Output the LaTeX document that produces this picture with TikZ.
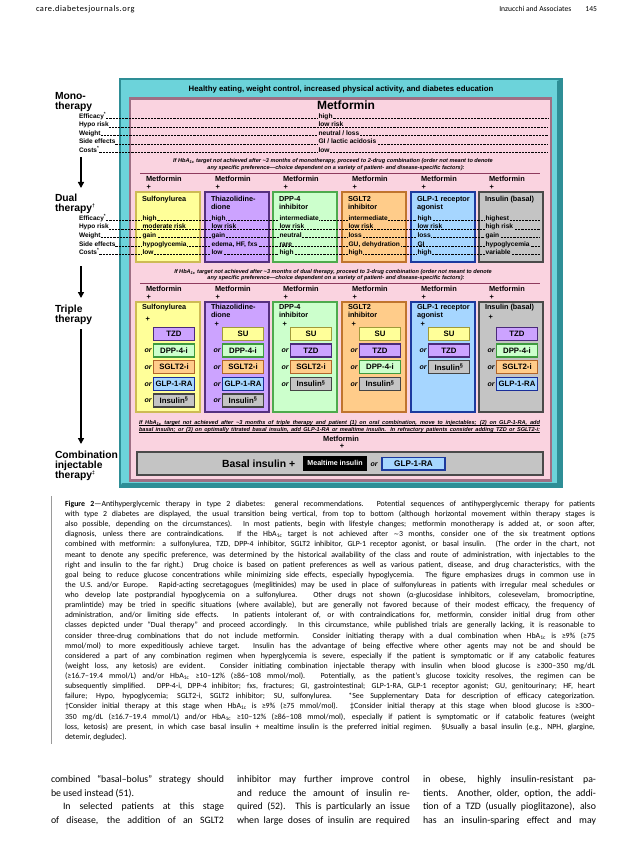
\documentclass[tikz,border=0pt]{standalone}
\usepackage{fontspec}
\setmainfont{Carlito}
\newfontfamily\arial{Liberation Sans}
\newfontfamily\dejavu{DejaVu Sans}
\newfontfamily\hdrwide[LetterSpace=6]{Carlito}
\usetikzlibrary{arrows.meta}
\definecolor{tealF}{HTML}{6CD3DA}
\definecolor{tealB}{HTML}{2E8E96}
\definecolor{pinkF}{HTML}{FAD3E0}
\definecolor{pinkB}{HTML}{9E6F84}
\definecolor{sepC}{HTML}{8E3A5E}
\definecolor{yelF}{HTML}{FFFF99}
\definecolor{yelB}{HTML}{CDBB55}
\definecolor{yelS}{HTML}{A09A3A}
\definecolor{purF}{HTML}{CCA3FF}
\definecolor{purB}{HTML}{55307F}
\definecolor{purS}{HTML}{4B2A7A}
\definecolor{grnF}{HTML}{CCFFCC}
\definecolor{grnB}{HTML}{4DAA4D}
\definecolor{grnS}{HTML}{3E9A3E}
\definecolor{orgF}{HTML}{FFCC8A}
\definecolor{orgB}{HTML}{C0742E}
\definecolor{orgS}{HTML}{B0642A}
\definecolor{bluF}{HTML}{A6D6FF}
\definecolor{bluB}{HTML}{1C3A9E}
\definecolor{bluS}{HTML}{1A2E99}
\definecolor{gryF}{HTML}{C4C4C4}
\definecolor{gryB}{HTML}{4A4A4A}
\definecolor{gryS}{HTML}{444444}
\definecolor{capbar}{HTML}{9A9A9A}
\newcommand\capline[2]{\node[captxt] (cap#1) at (65,{506.5+10.12*(#1-1)}) {\makebox[530pt][s]{#2}};}
\newcommand\caplast[2]{\node[captxt] (cap#1) at (65,{506.5+10.12*(#1-1)}) {#2};}
\newcommand\HbA{HbA\textsubscript{1c}}
\begin{document}
\begin{tikzpicture}[x=1pt,y=-1pt,
  every node/.style={inner sep=0pt, outer sep=0pt},
  hdr/.style={font=\fontsize{7.6}{9}\selectfont, anchor=base west},
  stage/.style={font=\arial\bfseries\fontsize{10.3}{11}\selectfont, anchor=base west},
  rowlab/.style={font=\arial\bfseries\fontsize{6.5}{7}\selectfont, anchor=base west},
  val/.style={font=\arial\bfseries\fontsize{6.6}{7}\selectfont, anchor=base west, fill=#1, inner xsep=0.6pt, inner ysep=0.4pt},
  dashline/.style={dash pattern=on 2.2pt off 1pt, line width=0.45pt},
  metlab/.style={font=\arial\bfseries\fontsize{7.4}{8}\selectfont, anchor=base west},
  ttl/.style={font=\arial\bfseries\fontsize{7.3}{8}\selectfont, anchor=base west},
  note/.style={font=\arial\bfseries\itshape\fontsize{5.6}{7}\selectfont, anchor=base},
  colbox/.style={draw=#1B, fill=#1F, line width=2.3pt, minimum width=64pt, anchor=north west},
  subbox/.style={draw=#1S, fill=#1F, line width=1.3pt, minimum width=41pt, minimum height=13pt, font=\arial\bfseries\fontsize{7.8}{8}\selectfont},
  ornode/.style={font=\arial\bfseries\itshape\fontsize{7}{8}\selectfont, anchor=base},
  captxt/.style={anchor=base west, font=\fontsize{7.85}{10}\selectfont},
  bodytxt/.style={anchor=base west, font=\fontsize{9.8}{12}\selectfont},
  stagearrow/.style={line width=1.5pt, -{Triangle[length=6pt,width=6pt]}}
]
\useasboundingbox[fill=white] (0,0) rectangle (638,842);

% ---------- page header ----------
\node[hdr, font=\hdrwide\fontsize{8.4}{9}\selectfont] (hleft) at (36,11.5) {care.diabetesjournals.org};
\node[hdr, anchor=base east] (hright) at (597,11.5) {Inzucchi and Associates\hspace{14pt}145};

% ---------- frames ----------
\draw[tealB, fill=tealF, line width=1.2pt] (120,79) rectangle (562,487);
\fill[tealB] (557,81) -- (562,79) -- (562,487) -- (120,487) -- (122,483) -- (557,483) -- cycle;
\draw[pinkB, fill=pinkF, line width=2.5pt] (130,98.5) rectangle (551,480.5);

\node[font=\arial\bfseries\fontsize{7.8}{9}\selectfont] (life) at (341,90) {Healthy eating, weight control, increased physical activity, and diabetes education};

% ---------- stage labels ----------
\node[stage] (mono1) at (55,99.7) {Mono-};
\node[stage] (mono2) at (55,109.5) {therapy};
\node[stage] (dual1) at (55,201.7) {Dual};
\node[stage] (dual2) at (55,211.2) {therapy\textsuperscript{\fontsize{5}{5}\selectfont†}};
\node[stage] (trip1) at (55,312.4) {Triple};
\node[stage] (trip2) at (55,322.4) {therapy};
\node[stage] (comb1) at (55,458) {Combination};
\node[stage] (comb2) at (55,468) {injectable};
\node[stage] (comb3) at (55,478) {therapy\textsuperscript{\fontsize{5}{5}\selectfont‡}};

\coordinate (a1s) at (81,157); \coordinate (a1e) at (81,188);
\coordinate (a2s) at (81,266); \coordinate (a2e) at (81,298);
\coordinate (a3s) at (81,329); \coordinate (a3e) at (81,444);
\draw[stagearrow] (a1s) -- (a1e);
\draw[stagearrow] (a2s) -- (a2e);
\draw[stagearrow] (a3s) -- (a3e);

% ---------- monotherapy ----------
\node[font=\arial\bfseries\fontsize{12}{13}\selectfont] (metmono) at (346,105.5) {Metformin};
\foreach \t/\v [count=\i] in {Efficacy\textsuperscript{*}/high, Hypo risk/low risk, Weight/{neutral / loss}, Side effects/{GI / lactic acidosis}, Costs\textsuperscript{*}/low}{
  \node[rowlab] (mlab\i) at (79,{118.5+8.5*(\i-1)}) {\t};
  \draw[dashline] (mlab\i.base east) -- (548,{118.5+8.5*(\i-1)});
  \node[val=pinkF] (mval\i) at (318,{118.5+8.5*(\i-1)}) {\v};
}

\node[note] (n1a) at (333,163) {If \HbA\ target not achieved after \textasciitilde3 months of monotherapy, proceed to 2-drug combination (order not meant to denote};
\node[note] (n1b) at (336,170) {any specific preference—choice dependent on a variety of patient- and disease-specific factors):};
\coordinate (s1a) at (140,174); \coordinate (s1b) at (540,174);
\draw[sepC, line width=1pt] (s1a) -- (s1b);

% ---------- dual therapy ----------
\foreach \L/\C [count=\i] in {136/yel, 205/pur, 273/grn, 342/org, 411/blu, 479/gry}{
  \node[metlab] (dm\i) at (\L+10,181.7) {Metformin};
  \node[metlab] (dp\i) at (\L+10.5,189.6) {+};
  \node[colbox=\C, minimum height=70pt] (d\i) at (\L,192) {};
}
\node[ttl] (dt1) at (142,201.7) {Sulfonylurea};
\node[ttl] (dt2) at (211,201.7) {Thiazolidine-};
\node[ttl] (dt2b) at (211,209.4) {dione};
\node[ttl] (dt3) at (279,201.7) {DPP-4};
\node[ttl] (dt3b) at (279,209.4) {inhibitor};
\node[ttl] (dt4) at (348,201.7) {SGLT2};
\node[ttl] (dt4b) at (348,209.4) {inhibitor};
\node[ttl] (dt5) at (417,201.7) {GLP-1 receptor};
\node[ttl] (dt5b) at (417,209.4) {agonist};
\node[ttl] (dt6) at (485,201.7) {Insulin (basal)};

\foreach \t [count=\i] in {Efficacy\textsuperscript{*}, Hypo risk, Weight, Side effects, Costs\textsuperscript{*}}{
  \node[rowlab] (dlab\i) at (79,{220.5+8.5*(\i-1)}) {\t};
  \draw[dashline] (dlab\i.base east) -- (540,{220.5+8.5*(\i-1)});
}
\foreach \L/\F/\va/\vb/\vc/\vd/\ve [count=\i] in {
  136/yelF/high/moderate risk/gain/hypoglycemia/low,
  205/purF/high/low risk/gain/{edema, HF, fxs}/low,
  273/grnF/intermediate/low risk/neutral/rare/high,
  342/orgF/intermediate/low risk/loss/{GU, dehydration}/high,
  411/bluF/high/low risk/loss/GI/high,
  479/gryF/highest/high risk/gain/hypoglycemia/variable}{
  \node[val=\F] (v\i-1) at (\L+6,220.5) {\va};
  \node[val=\F] (v\i-2) at (\L+6,229) {\vb};
  \node[val=\F] (v\i-3) at (\L+6,237.5) {\vc};
  \node[val=\F] (v\i-4) at (\L+6,246) {\vd};
  \node[val=\F] (v\i-5) at (\L+6,254.5) {\ve};
}

\node[note] (n2a) at (333,273) {If \HbA\ target not achieved after \textasciitilde3 months of dual therapy, proceed to 3-drug combination (order not meant to denote};
\node[note] (n2b) at (336,279.7) {any specific preference—choice dependent on a variety of patient- and disease-specific factors):};
\coordinate (s2a) at (140,283.5); \coordinate (s2b) at (540,283.5);
\draw[sepC, line width=1pt] (s2a) -- (s2b);

% ---------- triple therapy ----------
\foreach \L/\C [count=\i] in {136/yel, 205/pur, 273/grn, 342/org, 411/blu, 479/gry}{
  \node[metlab] (tm\i) at (\L+10,291.7) {Metformin};
  \node[metlab] (tp\i) at (\L+10.5,299.4) {+};
  \node[colbox=\C, minimum height=110pt] (t\i) at (\L,302) {};
}
\node[ttl] (tt1) at (142,309.7) {Sulfonylurea};
\node[ttl] (tt2) at (211,309.7) {Thiazolidine-};
\node[ttl] (tt2b) at (211,317.4) {dione};
\node[ttl] (tt3) at (279,309.7) {DPP-4};
\node[ttl] (tt3b) at (279,317.4) {inhibitor};
\node[ttl] (tt4) at (348,309.7) {SGLT2};
\node[ttl] (tt4b) at (348,317.4) {inhibitor};
\node[ttl] (tt5) at (417,309.7) {GLP-1 receptor};
\node[ttl] (tt5b) at (417,317.4) {agonist};
\node[ttl] (tt6) at (485,309.7) {Insulin (basal)};
\node[metlab] (tq1) at (145.5,321.8) {+};
\node[metlab] (tq2) at (214.5,326.8) {+};
\node[metlab] (tq3) at (282.5,326.8) {+};
\node[metlab] (tq4) at (351.5,326.8) {+};
\node[metlab] (tq5) at (420.5,326.8) {+};
\node[metlab] (tq6) at (488.5,319.8) {+};

\foreach \k/\L/\items in {
  1/136/{TZD/pur, DPP-4-i/grn, SGLT2-i/org, GLP-1-RA/blu, Insulin\textsuperscript{§}/gry},
  2/205/{SU/yel, DPP-4-i/grn, SGLT2-i/org, GLP-1-RA/blu, Insulin\textsuperscript{§}/gry},
  3/273/{SU/yel, TZD/pur, SGLT2-i/org, Insulin\textsuperscript{§}/gry},
  4/342/{SU/yel, TZD/pur, DPP-4-i/grn, Insulin\textsuperscript{§}/gry},
  5/411/{SU/yel, TZD/pur, Insulin\textsuperscript{§}/gry},
  6/479/{TZD/pur, DPP-4-i/grn, SGLT2-i/org, GLP-1-RA/blu}}{
  \foreach \t/\c [count=\j] in \items {
    \node[subbox=\c] (sb\k-\j) at (\L+38,{333.7+16.67*(\j-1)}) {\t};
    \ifnum\j>1 \node[ornode] (or\k-\j) at (\L+12,{336.2+16.67*(\j-1)}) {or};\fi
  }
}

% ---------- triple -> injectable note ----------
\node[note, anchor=base west] (n3a) at (139,424) {\makebox[401pt][s]{If \HbA\ target not achieved after \textasciitilde3 months of triple therapy and patient (1) on oral combination, move to injectables; (2) on GLP-1-RA, add}};
\node[note, anchor=base west] (n3b) at (139,431) {\makebox[401pt][s]{basal insulin; or (3) on optimally titrated basal insulin, add GLP-1-RA or mealtime insulin. In refractory patients consider adding TZD or SGLT2-i:}};
\draw[line width=0.45pt] (n3a.base west) ++(0,1) -- ++(401,0);
\draw[line width=0.45pt] (n3b.base west) ++(0,1) -- ++(401,0);

% ---------- combination injectable ----------
\node[metlab, anchor=base] (cm) at (341,441.7) {Metformin};
\node[metlab, anchor=base] (cp) at (342,448.7) {+};
\node[draw=gryB, fill=gryF, line width=2.4pt, minimum width=406pt, minimum height=23pt, anchor=north west] (basalbox) at (137,452) {};
\node[font=\arial\bfseries\fontsize{10.4}{11}\selectfont, anchor=base west] (basal) at (222,467.2) {Basal insulin +};
\node[fill=black, text=white, minimum width=64pt, minimum height=15.5pt, font=\arial\bfseries\fontsize{7.1}{8}\selectfont] (meal) at (335,463.3) {Mealtime insulin};
\node[ornode] (cor) at (374,466) {or};
\node[draw=bluB, fill=bluF, line width=1.8pt, minimum width=63pt, minimum height=12.5pt, font=\arial\bfseries\fontsize{8.2}{9}\selectfont] (glp) at (413.5,463.8) {GLP-1-RA};

% ---------- caption ----------
\coordinate (bar1) at (51.5,496); \coordinate (bar2) at (51.5,744);
\draw[capbar, line width=0.7pt] (bar1) -- (bar2);
\capline{1}{\textbf{Figure 2}—Antihyperglycemic therapy in type 2 diabetes: general recommendations. Potential sequences of antihyperglycemic therapy for patients}
\capline{2}{with type 2 diabetes are displayed, the usual transition being vertical, from top to bottom (although horizontal movement within therapy stages is}
\capline{3}{also possible, depending on the circumstances). In most patients, begin with lifestyle changes; metformin monotherapy is added at, or soon after,}
\capline{4}{diagnosis, unless there are contraindications. If the \HbA\ target is not achieved after {\dejavu\fontsize{6.6}{8}\selectfont ∼}3 months, consider one of the six treatment options}
\capline{5}{combined with metformin: a sulfonylurea, TZD, DPP-4 inhibitor, SGLT2 inhibitor, GLP-1 receptor agonist, or basal insulin. (The order in the chart, not}
\capline{6}{meant to denote any specific preference, was determined by the historical availability of the class and route of administration, with injectables to the}
\capline{7}{right and insulin to the far right.) Drug choice is based on patient preferences as well as various patient, disease, and drug characteristics, with the}
\capline{8}{goal being to reduce glucose concentrations while minimizing side effects, especially hypoglycemia. The figure emphasizes drugs in common use in}
\capline{9}{the U.S. and/or Europe. Rapid-acting secretagogues (meglitinides) may be used in place of sulfonylureas in patients with irregular meal schedules or}
\capline{10}{who develop late postprandial hypoglycemia on a sulfonylurea. Other drugs not shown (α-glucosidase inhibitors, colesevelam, bromocriptine,}
\capline{11}{pramlintide) may be tried in specific situations (where available), but are generally not favored because of their modest efficacy, the frequency of}
\capline{12}{administration, and/or limiting side effects. In patients intolerant of, or with contraindications for, metformin, consider initial drug from other}
\capline{13}{classes depicted under “Dual therapy” and proceed accordingly. In this circumstance, while published trials are generally lacking, it is reasonable to}
\capline{14}{consider three-drug combinations that do not include metformin. Consider initiating therapy with a dual combination when \HbA\ is ≥9\% (≥75}
\capline{15}{mmol/mol) to more expeditiously achieve target. Insulin has the advantage of being effective where other agents may not be and should be}
\capline{16}{considered a part of any combination regimen when hyperglycemia is severe, especially if the patient is symptomatic or if any catabolic features}
\capline{17}{(weight loss, any ketosis) are evident. Consider initiating combination injectable therapy with insulin when blood glucose is ≥300–350 mg/dL}
\capline{18}{(≥16.7–19.4 mmol/L) and/or \HbA\ ≥10–12\% (≥86–108 mmol/mol). Potentially, as the patient’s glucose toxicity resolves, the regimen can be}
\capline{19}{subsequently simplified. DPP-4-i, DPP-4 inhibitor; fxs, fractures; GI, gastrointestinal; GLP-1-RA, GLP-1 receptor agonist; GU, genitourinary; HF, heart}
\capline{20}{failure; Hypo, hypoglycemia; SGLT2-i, SGLT2 inhibitor; SU, sulfonylurea. *See Supplementary Data for description of efficacy categorization.}
\capline{21}{†Consider initial therapy at this stage when \HbA\ is ≥9\% (≥75 mmol/mol). ‡Consider initial therapy at this stage when blood glucose is ≥300–}
\capline{22}{350 mg/dL (≥16.7–19.4 mmol/L) and/or \HbA\ ≥10–12\% (≥86–108 mmol/mol), especially if patient is symptomatic or if catabolic features (weight}
\capline{23}{loss, ketosis) are present, in which case basal insulin + mealtime insulin is the preferred initial regimen. §Usually a basal insulin (e.g., NPH, glargine,}
\caplast{24}{detemir, degludec).}

% ---------- body text ----------
\node[bodytxt] (b11) at (51,782.5) {\makebox[173pt][s]{combined “basal–bolus” strategy should}};
\node[bodytxt] (b12) at (51,796) {be used instead (51).};
\node[bodytxt] (b13) at (63,809.5) {\makebox[161pt][s]{In selected patients at this stage}};
\node[bodytxt] (b14) at (51,823) {\makebox[173pt][s]{of disease, the addition of an SGLT2}};
\node[bodytxt] (b21) at (237,782.5) {\makebox[173pt][s]{inhibitor may further improve control}};
\node[bodytxt] (b22) at (237,796) {\makebox[173pt][s]{and reduce the amount of insulin re-}};
\node[bodytxt] (b23) at (237,809.5) {\makebox[173pt][s]{quired (52). This is particularly an issue}};
\node[bodytxt] (b24) at (237,823) {\makebox[173pt][s]{when large doses of insulin are required}};
\node[bodytxt] (b31) at (423,782.5) {\makebox[173pt][s]{in obese, highly insulin-resistant pa-}};
\node[bodytxt] (b32) at (423,796) {\makebox[173pt][s]{tients. Another, older, option, the addi-}};
\node[bodytxt] (b33) at (423,809.5) {\makebox[173pt][s]{tion of a TZD (usually pioglitazone), also}};
\node[bodytxt] (b34) at (423,823) {\makebox[173pt][s]{has an insulin-sparing effect and may}};
\end{tikzpicture}
\end{document}
